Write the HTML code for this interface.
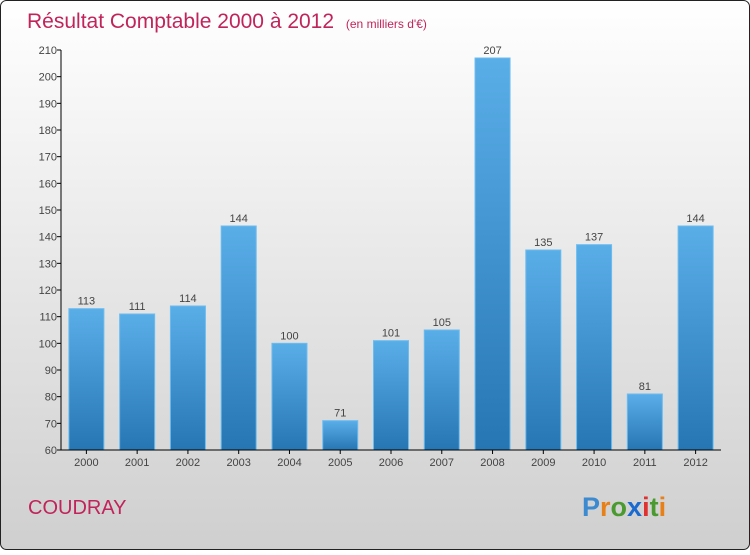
<!DOCTYPE html>
<html><head><meta charset="utf-8"><style>
body{margin:0;width:750px;height:550px;overflow:hidden;font-family:"Liberation Sans",sans-serif}
</style></head><body>
<svg id="chart" width="750" height="550" xmlns="http://www.w3.org/2000/svg">
<defs>
<linearGradient id="bg" x1="0" y1="0" x2="0" y2="1"><stop offset="0" stop-color="#ffffff"/><stop offset="1" stop-color="#cfcfcf"/></linearGradient>
<linearGradient id="bar" x1="0" y1="0" x2="0" y2="1"><stop offset="0" stop-color="#5aaee8"/><stop offset="1" stop-color="#2676b4"/></linearGradient>
</defs>
<rect x="0.5" y="0.5" width="749" height="549" rx="6" fill="url(#bg)" stroke="#222"/>
<text x="27" y="28" font-size="21" fill="#c0245a">Résultat Comptable 2000 à 2012 <tspan font-size="12" dx="6">(en milliers d'€)</tspan></text>
<g id="yaxis"></g>
<g id="bars"></g>
<g id="xaxis"></g>
<text x="28" y="514" font-size="20" fill="#c0245a">COUDRAY</text>
<text x="582" y="516" font-size="27" font-weight="bold" fill="#3c8ad0">P<tspan fill="#e8801a">r</tspan><tspan fill="#4a9a30">o</tspan><tspan fill="#1a6ad0">x</tspan><tspan fill="#e03030">i</tspan><tspan fill="#4a9a30">t</tspan><tspan fill="#e8801a">i</tspan></text>
</svg>
<script>
const categories=["2000","2001","2002","2003","2004","2005","2006","2007","2008","2009","2010","2011","2012"];
const values=[113,111,114,144,100,71,101,105,207,135,137,81,144];
const yTicks=[60,70,80,90,100,110,120,130,140,150,160,170,180,190,200,210];
const NS="http://www.w3.org/2000/svg";
const x0=61,x1=721,yTop=50,yBot=450,vMin=60,vMax=210;
const y=v=>yBot-(v-vMin)/(vMax-vMin)*(yBot-yTop);
const band=(x1-x0)/categories.length;
const xc=i=>x0+band*(i+0.5);
function mk(tag,attrs,parent,text){const e=document.createElementNS(NS,tag);for(const k in attrs)e.setAttribute(k,attrs[k]);if(text!==undefined)e.textContent=text;parent.appendChild(e);return e;}
const ya=document.getElementById('yaxis'),ba=document.getElementById('bars'),xa=document.getElementById('xaxis');
yTicks.forEach(t=>{
 const l=mk('line',{x1:x0-4,x2:x0,y1:y(t),y2:y(t),stroke:'#000'},ya);
 
 
 const tx=mk('text',{x:x0-4,y:y(t)+4,'text-anchor':'end','font-size':11,fill:'#444'},ya,String(t));
 
 
});
mk('line',{x1:x0,x2:x0,y1:yTop,y2:yBot,stroke:'#000'},ya);
values.forEach((v,i)=>{
 const r=mk('rect',{x:xc(i)-17.5,y:y(v),width:35,height:yBot-y(v),fill:'url(#bar)',stroke:'#6bbcf0','stroke-width':1},ba);
 
 
 const t=mk('text',{x:xc(i),y:y(v)-4,'text-anchor':'middle','font-size':11,fill:'#444'},ba,String(v));
 
 
 const tk=mk('line',{x1:xc(i),x2:xc(i),y1:yBot,y2:yBot+4,stroke:'#000'},xa);
 
 
 const xl=mk('text',{x:xc(i),y:yBot+16,'text-anchor':'middle','font-size':11,fill:'#444'},xa,categories[i]);
 
 
});
mk('line',{x1:x0,x2:x1,y1:yBot,y2:yBot,stroke:'#000'},xa);
</script>
</body></html>
